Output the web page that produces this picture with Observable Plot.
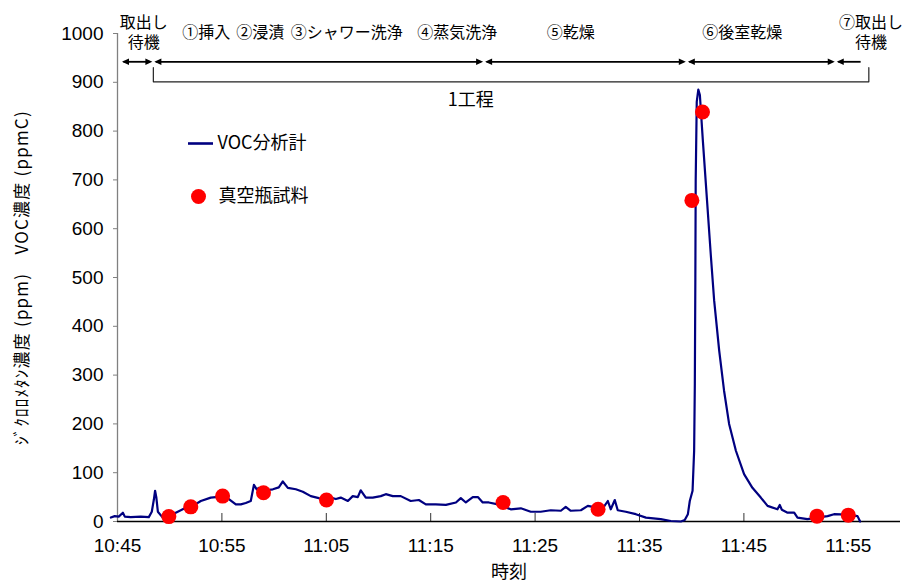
<!DOCTYPE html>
<html>
<head>
<meta charset="utf-8">
<script src="https://cdn.jsdelivr.net/npm/d3@7"></script>
<script src="https://cdn.jsdelivr.net/npm/@observablehq/plot@0.6"></script>
<style>
  html, body { margin: 0; padding: 0; background: #fff; }
  #chart { width: 905px; height: 584px; }
</style>
</head>
<body>
<div id="chart"></div>
<script>
// ---- data ----
const VOC_TIMES = ["10:44:22","10:44:44","10:45:07","10:45:31","10:45:42","10:46:16","10:47:14","10:48:00","10:48:17","10:48:29","10:48:36","10:48:43","10:48:52","10:49:20","10:49:55","10:50:35","10:51:32","10:52:13","10:52:59","10:53:56","10:54:25","10:55:05","10:55:40","10:56:20","10:56:49","10:57:17","10:57:46","10:58:04","10:58:20","10:58:32","10:59:13","10:59:53","11:00:27","11:00:50","11:01:19","11:02:05","11:02:45","11:03:31","11:04:17","11:04:57","11:05:26","11:05:55","11:06:23","11:07:04","11:07:32","11:08:01","11:08:18","11:08:47","11:09:27","11:10:13","11:10:42","11:11:22","11:12:08","11:13:05","11:13:52","11:14:32","11:15:29","11:16:27","11:17:25","11:17:53","11:18:22","11:19:02","11:19:31","11:19:59","11:20:34","11:21:26","11:22:40","11:23:38","11:24:35","11:25:32","11:26:30","11:27:28","11:27:56","11:28:25","11:29:23","11:30:03","11:31:00","11:31:35","11:31:58","11:32:15","11:32:38","11:32:55","11:33:41","11:34:39","11:35:37","11:37:02","11:38:00","11:38:58","11:39:20","11:39:38","11:39:49","11:40:05","11:40:14","11:40:18","11:40:21","11:40:23","11:40:29","11:40:38","11:40:47","11:41:04","11:41:28","11:41:50","11:42:09","11:42:38","11:43:06","11:43:35","11:44:14","11:45:01","11:45:49","11:46:37","11:47:16","11:48:13","11:48:26","11:48:38","11:49:11","11:49:49","11:50:08","11:51:05","11:51:59","11:53:01","11:53:38","11:54:57","11:55:53","11:56:08"];
const VOC_VALUES = [8,11,10,18,10,9,10,9,20,45,63,50,20,8,6,18,28,32,42,49,50,50,46,35,35,38,42,75,66,69,64,66,70,82,69,66,61,52,48,46,49,46,49,42,52,50,64,49,49,52,56,52,52,42,44,35,35,34,39,48,39,50,50,39,39,35,25,27,20,20,23,22,30,22,23,32,28,30,42,25,44,23,20,15,8,5,1,0,3,15,42,63,145,282,500,700,860,885,874,781,658,545,453,350,268,200,145,97,69,49,32,25,34,24,18,18,8,5,8,11,15,14,11,0];

const SAMPLE_TIMES = ["10:49:55","10:52:01","10:55:04","10:58:59","11:05:01","11:21:56","11:31:02","11:40:01","11:41:02","11:52:00","11:55:00"];
const SAMPLE_VALUES = [10,30,52,59,44,39,25,658,839,11,13];

const X_DOMAIN = ["10:45","12:00"];
const X_TICKS = ["10:45","10:55","11:05","11:15","11:25","11:35","11:45","11:55"];
const Y_TICKS = [0,100,200,300,400,500,600,700,800,900,1000];

const PHASE_BOUNDS = ["10:45:20","10:48:26","11:20:07","11:39:32","11:53:48","11:56:31"];
const BRACKET_SPAN = ["10:48:26","11:56:58"];
const PHASE_LABELS = ["取出し\n待機","①挿入","②浸漬","③シャワー洗浄","④蒸気洗浄","⑤乾燥","⑥後室乾燥","⑦取出し\n待機"];
const PHASE_LABEL_TIMES = ["10:47:31","10:53:30","10:58:41","11:06:58","11:17:33","11:28:25","11:44:51","11:57:10"];
const STAGE_LABEL = "1工程";
const STAGE_LABEL_TIME = "11:18:50";

const SERIES_NAMES = ["VOC分析計","真空瓶試料"];
const X_LABEL = "時刻";
const Y_LABEL = "ｼﾞｸﾛﾛﾒﾀﾝ濃度 (ppm)　VOC濃度 (ppmC)";

// annotation levels (in y-axis units, like the drawn shapes of the original)
const LABEL_Y = 1001, ARROW_Y = 942, BRACKET_TOP = 930, BRACKET_BOTTOM = 901, STAGE_Y = 863;

// ---- helpers ----
const T = s => { const [h, m, sec = 0] = s.split(":").map(Number); return new Date(2024, 0, 1, h, m, sec); };
const jp = "'Noto Sans CJK JP', 'Noto Sans', sans-serif";
const num = "'Liberation Sans', Arial, 'Noto Sans CJK JP', sans-serif";

const voc = VOC_TIMES.map((t, i) => ({t: T(t), v: VOC_VALUES[i]}));
const samples = SAMPLE_TIMES.map((t, i) => ({t: T(t), v: SAMPLE_VALUES[i]}));
const segments = PHASE_BOUNDS.slice(0, -1).map((s, i) => ({start: T(s), end: T(PHASE_BOUNDS[i + 1])}));
const bracket = [
  [T(BRACKET_SPAN[0]), BRACKET_TOP], [T(BRACKET_SPAN[0]), BRACKET_BOTTOM],
  [T(BRACKET_SPAN[1]), BRACKET_BOTTOM], [T(BRACKET_SPAN[1]), BRACKET_TOP]
];
// split multi-line labels into individual lines
const labelLines = PHASE_LABELS.flatMap((l, i) => {
  const parts = l.split("\n");
  return parts.map((p, k) => ({line: p, k, n: parts.length, t: T(PHASE_LABEL_TIMES[i])}));
});

const triRight = {draw(ctx) { ctx.moveTo(0, 0); ctx.lineTo(-7, -3.2); ctx.lineTo(-7, 3.2); ctx.closePath(); }};
const triLeft  = {draw(ctx) { ctx.moveTo(0, 0); ctx.lineTo(7, -3.2); ctx.lineTo(7, 3.2); ctx.closePath(); }};
const legendLine = {draw(ctx) { ctx.rect(-12.5, -1.3, 25, 2.6); }};

const W = 905, H = 584, ML = 117, MR = 5, MT = 33, MB = 63;
const frameH = H - MT - MB;
const labelOpts = {x: "t", y: () => LABEL_Y, text: "line", fontSize: 16, fontFamily: jp, textAnchor: "middle", lineAnchor: "middle"};

const chart = Plot.plot({
  width: W, height: H,
  marginLeft: ML, marginRight: MR, marginTop: MT, marginBottom: MB,
  style: {fontFamily: num, fontSize: "19px", background: "white", color: "black", overflow: "visible"},
  x: {type: "time", domain: X_DOMAIN.map(T)},
  y: {type: "linear", domain: [0, 1000]},
  marks: [
    // axes
    Plot.axisY({ticks: Y_TICKS, tickSize: 4, tickPadding: 10, tickFormat: d => String(d), stroke: "#808080", fill: "black", fontSize: 19, label: null}),
    Plot.axisX({ticks: X_TICKS.map(T), tickSize: 0, tickPadding: 17, tickFormat: d3.timeFormat("%H:%M"), fontSize: 19, label: null}),
    Plot.tickX(X_TICKS.map(T), {x: d => d, insetTop: frameH - 8, stroke: "#333", strokeWidth: 1}),
    Plot.ruleX([T(X_DOMAIN[0])], {stroke: "#808080", strokeWidth: 1.3}),
    Plot.ruleY([0], {stroke: "black", strokeWidth: 1.3}),
    // axis titles
    Plot.text([Y_LABEL], {text: d => d, frameAnchor: "left", rotate: -90, dx: -95, textAnchor: "middle", lineAnchor: "middle", fontSize: 17, fontFamily: jp}),
    Plot.text([X_LABEL], {text: d => d, frameAnchor: "bottom", dy: 51, textAnchor: "middle", lineAnchor: "middle", fontSize: 18, fontFamily: jp}),
    // process annotations
    Plot.ruleY(segments, {x1: "start", x2: "end", y: () => ARROW_Y, insetLeft: 3, insetRight: 3, stroke: "black", strokeWidth: 1.8}),
    Plot.dot(segments, {x: "start", y: () => ARROW_Y, symbol: triLeft, fill: "black", dx: 1}),
    Plot.dot(segments.slice(0, -1), {x: "end", y: () => ARROW_Y, symbol: triRight, fill: "black", dx: -1}),
    Plot.line(bracket, {x: d => d[0], y: d => d[1], stroke: "#222", strokeWidth: 1.2, curve: "linear"}),
    Plot.text(labelLines.filter(d => d.n === 1), labelOpts),
    Plot.text(labelLines.filter(d => d.n === 2 && d.k === 0), {...labelOpts, dy: -10}),
    Plot.text(labelLines.filter(d => d.n === 2 && d.k === 1), {...labelOpts, dy: 10}),
    Plot.text([STAGE_LABEL], {x: () => T(STAGE_LABEL_TIME), y: () => STAGE_Y, text: d => d, fontSize: 18, fontFamily: jp}),
    // data
    Plot.line(voc, {x: "t", y: "v", stroke: "#000080", strokeWidth: 2.2, curve: "linear"}),
    Plot.dot(samples, {x: "t", y: "v", r: 7.5, fill: "#ff0000", stroke: "none"}),
    // legend
    Plot.dot([0], {frameAnchor: "top-left", dx: 83, dy: 110, symbol: legendLine, fill: "#000080"}),
    Plot.text([SERIES_NAMES[0]], {text: d => d, frameAnchor: "top-left", dx: 100, dy: 110, textAnchor: "start", lineAnchor: "middle", fontSize: 18, fontFamily: jp}),
    Plot.dot([0], {frameAnchor: "top-left", dx: 81, dy: 163, r: 7.5, fill: "#ff0000"}),
    Plot.text([SERIES_NAMES[1]], {text: d => d, frameAnchor: "top-left", dx: 101, dy: 163, textAnchor: "start", lineAnchor: "middle", fontSize: 18, fontFamily: jp})
  ]
});
chart.querySelectorAll("text").forEach(t => {
  if (t.textContent === Y_LABEL) t.setAttribute("letter-spacing", "1.2");
});
document.getElementById("chart").appendChild(chart);
</script>
</body>
</html>
